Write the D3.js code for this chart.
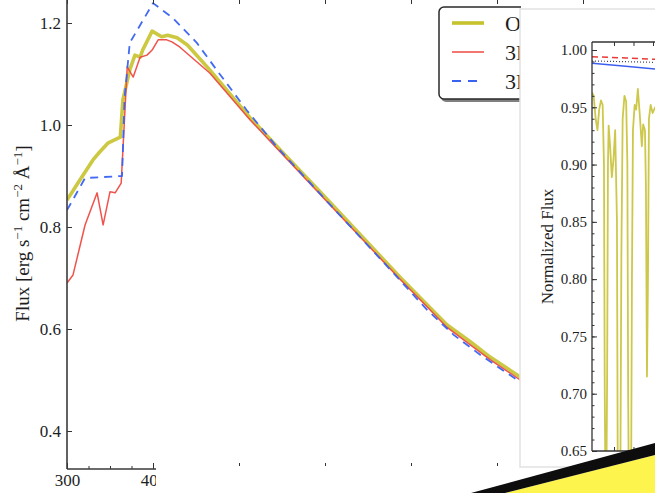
<!DOCTYPE html>
<html><head><meta charset="utf-8">
<script src="https://cdn.jsdelivr.net/npm/d3@7"></script>
<style>
html,body{margin:0;padding:0;background:#fff;overflow:hidden}
svg{display:block}
text{font-family:"Liberation Serif","Times New Roman",serif;fill:#1e1e1e}
</style></head><body>
<svg id="chart" width="655" height="493"></svg>
<script>
// ---- Main panel: broad-band flux, wavelength in nm ----
const obsWave  = [300,315,330,338,348,362,365,373,379,385,388,399,410,417,428,440,466,513,548,600,687,711,742,769,792,827,860];
const obsFlux  = [0.853,0.892,0.931,0.947,0.965,0.976,1.049,1.108,1.137,1.133,1.147,1.184,1.173,1.176,1.171,1.157,1.108,1.014,0.951,0.859,0.702,0.661,0.608,0.575,0.545,0.506,0.470];
const nlteWave = [300,307,321,335,342,350,356,363,365,370,377,385,393,399,406,416,422,431,466,513,548,687,711,742,769,792,827,860];
const nlteFlux = [0.690,0.706,0.804,0.867,0.804,0.869,0.867,0.886,0.951,1.114,1.094,1.133,1.137,1.147,1.167,1.167,1.163,1.153,1.102,1.010,0.947,0.698,0.657,0.603,0.569,0.540,0.500,0.464];
const lteWave  = [300,321,364,367,373,400,423,451,474,509,544,687,719,750,780,827,860];
const lteFlux  = [0.833,0.896,0.900,1.055,1.161,1.239,1.210,1.161,1.108,1.029,0.957,0.696,0.637,0.588,0.550,0.496,0.460];
const seriesNames = ["Observed", "3D NLTE", "3D LTE"];
const mainYTicks = [0.4, 0.6, 0.8, 1.0, 1.2];
const mainXTicks = [300, 400, 500, 600, 700, 800, 900];

// ---- Inset: normalized flux around a line region, wavelength in Å ----
const zoomWave = [5164.436,5164.478,5164.530,5164.576,5164.620,5164.666,5164.709,5164.743,5164.763,5164.778,5164.807,5164.825,5164.845,5164.863,5164.902,5164.945,5164.986,5165.030,5165.076,5165.096,5165.163,5165.189,5165.222,5165.268,5165.312,5165.343,5165.363,5165.378,5165.440,5165.460,5165.486,5165.530,5165.568,5165.612,5165.658,5165.714,5165.748,5165.794,5165.819,5165.845,5165.871,5165.896,5165.940,5165.991,5166.055,5166.130];
const zoomObs  = [0.963,0.960,0.940,0.930,0.948,0.956,0.952,0.900,0.700,0.630,0.630,0.720,0.900,0.934,0.915,0.889,0.904,0.930,0.850,0.630,0.630,0.820,0.940,0.960,0.955,0.900,0.700,0.630,0.630,0.800,0.930,0.952,0.948,0.966,0.945,0.916,0.935,0.930,0.880,0.715,0.800,0.940,0.952,0.945,0.950,0.948];
const zoomModelWave = [5164.436, 5165.300, 5166.200];
const zoomNlte = [0.9942, 0.9930, 0.9917];
const zoomLte  = [0.9884, 0.9858, 0.9830];
const zoom1D   = [0.9904, 0.9898, 0.9891];
const insetYTicks = [0.65,0.70,0.75,0.80,0.85,0.90,0.95,1.00];

const colors = {obs:"#c6c22e", nlte:"#ee4a42", lte:"#3a62f2"};

const svg = d3.select("#chart");
const defs = svg.append("defs");

// ---------- main axes ----------
const xMain = d3.scaleLinear().domain([300, 1000]).range([67, 67 + 7 * 86]);
const yMain = d3.scaleLinear().domain([0.4, 1.2]).range([431, 23]);
const mainTop = yMain(1.249), mainBottom = yMain(0.3255);

defs.append("clipPath").attr("id","clipMain")
  .append("rect").attr("x", 67).attr("y", mainTop).attr("width", 700).attr("height", mainBottom - mainTop);

const gMain = svg.append("g");
const lineMain = d3.line().x(d => xMain(d[0])).y(d => yMain(d[1]));
const mainSeries = [
  {w: obsWave,  f: obsFlux,  c: colors.obs,  sw: 3.6, dash: null},
  {w: nlteWave, f: nlteFlux, c: colors.nlte, sw: 1.5, dash: null},
  {w: lteWave,  f: lteFlux,  c: colors.lte,  sw: 1.8, dash: "8,6"}
];
gMain.append("g").attr("clip-path","url(#clipMain)")
  .selectAll("path").data(mainSeries).join("path")
  .attr("d", s => lineMain(d3.zip(s.w, s.f)))
  .attr("fill","none").attr("stroke", s => s.c).attr("stroke-width", s => s.sw)
  .attr("stroke-dasharray", s => s.dash).attr("stroke-linejoin","round")
  .attr("opacity", (s,i) => i === 0 ? 0.9 : 0.95);

function styleAxis(g, fs){
  g.select(".domain").remove();
  g.selectAll(".tick line").attr("stroke","#333").attr("stroke-width",1);
  g.selectAll(".tick text").attr("font-size", fs).attr("fill","#1e1e1e")
   .attr("font-family",'"Liberation Serif","Times New Roman",serif');
}

// left axis
gMain.append("g").attr("transform","translate(67,0)")
  .call(d3.axisLeft(yMain).tickValues(mainYTicks).tickSize(-5).tickPadding(6).tickFormat(d3.format(".1f")))
  .call(g => styleAxis(g, 17));
// bottom axis, majors and minors
gMain.append("g").attr("transform",`translate(0,${mainBottom})`)
  .call(d3.axisBottom(xMain).tickValues(mainXTicks).tickSize(-6).tickPadding(5).tickFormat(d3.format("d")))
  .call(g => styleAxis(g, 17));
gMain.append("g").attr("transform",`translate(0,${mainBottom})`)
  .call(d3.axisBottom(xMain).tickValues(d3.range(300, 1001, 25)).tickSize(-3).tickFormat(""))
  .call(g => styleAxis(g, 17));
// top axis
gMain.append("g").attr("transform",`translate(0,${mainTop})`)
  .call(d3.axisTop(xMain).tickValues(mainXTicks).tickSize(-6).tickFormat(""))
  .call(g => styleAxis(g, 17));
// spines
gMain.append("line").attr("x1",67).attr("x2",67).attr("y1",mainTop).attr("y2",mainBottom)
  .attr("stroke","#3a3a3a").attr("stroke-width",1.6);
gMain.append("line").attr("x1",67).attr("x2",767).attr("y1",mainBottom).attr("y2",mainBottom)
  .attr("stroke","#3a3a3a").attr("stroke-width",1.6);

// y label
const yl = gMain.append("text").attr("transform",`translate(29,${(mainTop+mainBottom)/2}) rotate(-90)`)
  .attr("text-anchor","middle").attr("font-size",19);
yl.append("tspan").text("Flux [erg s");
yl.append("tspan").attr("baseline-shift","super").attr("font-size",13).text("−1");
yl.append("tspan").text(" cm");
yl.append("tspan").attr("baseline-shift","super").attr("font-size",13).text("−2");
yl.append("tspan").text(" Å");
yl.append("tspan").attr("baseline-shift","super").attr("font-size",13).text("−1");
yl.append("tspan").text("]");

// legend (its right part sits behind the inset panel)
defs.append("clipPath").attr("id","clipLegend")
  .append("rect").attr("x",430).attr("y",0).attr("width",91).attr("height",120);
const lg = svg.append("g").attr("clip-path","url(#clipLegend)");
lg.append("rect").attr("x",441).attr("y",10).attr("width",260).attr("height",92).attr("rx",5)
  .attr("fill","#555").attr("opacity",0.75);
lg.append("rect").attr("x",439).attr("y",7).attr("width",260).attr("height",92).attr("rx",5)
  .attr("fill","#fff").attr("stroke","#2a2a2a").attr("stroke-width",1.5);
const legItems = lg.selectAll("g.item").data(mainSeries).join("g").attr("class","item")
  .attr("transform",(d,i)=>`translate(0,${23 + i*29})`);
legItems.append("line").attr("x1",452).attr("x2",484).attr("y1",0).attr("y2",0)
  .attr("stroke",d=>d.c).attr("stroke-width",d=>d.sw).attr("stroke-dasharray",d=>d.dash ? "9,7" : null);
legItems.append("text").attr("x",505).attr("y",8).attr("font-size",22).text((d,i)=>seriesNames[i]);

// white band along the lower edge
svg.append("rect").attr("x",156).attr("y",466).attr("width",520).attr("height",40).attr("fill","#fff");

// ---------- inset ----------
svg.append("rect").attr("x",520).attr("y",9).attr("width",160).attr("height",458)
  .attr("fill","#fff").attr("stroke","#e2e2e2").attr("stroke-width",1.5);

const xIn = d3.scaleLinear().domain([5164.436, 5166.5]).range([592, 592 + 2.064 * 39]);
const yIn = d3.scaleLinear().domain([0.65, 1.0]).range([451, 50]);
const inTop = yIn(1.007), inBottom = yIn(0.65);
defs.append("clipPath").attr("id","clipIn")
  .append("rect").attr("x",592).attr("y",inTop).attr("width",120).attr("height",inBottom-inTop);

const gIn = svg.append("g");
const lineIn = d3.line().x(d => xIn(d[0])).y(d => yIn(d[1]));
const gInLines = gIn.append("g").attr("clip-path","url(#clipIn)");
gInLines.append("path").attr("d", lineIn(d3.zip(zoomWave, zoomObs)))
  .attr("fill","none").attr("stroke","#cdc84a").attr("stroke-width",1.8).attr("stroke-linejoin","round");
gInLines.append("path").attr("d", lineIn(d3.zip(zoomModelWave, zoomLte)))
  .attr("fill","none").attr("stroke","#3d5ff0").attr("stroke-width",1.5);
gInLines.append("path").attr("d", lineIn(d3.zip(zoomModelWave, zoomNlte)))
  .attr("fill","none").attr("stroke","#e83a36").attr("stroke-width",1.5).attr("stroke-dasharray","6,4");
gInLines.append("path").attr("d", lineIn(d3.zip(zoomModelWave, zoom1D)))
  .attr("fill","none").attr("stroke","#445").attr("stroke-width",1.2).attr("stroke-dasharray","1,2");

gIn.append("g").attr("transform","translate(592,0)")
  .call(d3.axisLeft(yIn).tickValues(insetYTicks).tickSize(-5).tickPadding(5).tickFormat(d3.format(".2f")))
  .call(g => styleAxis(g, 15));
gIn.append("g").attr("transform","translate(592,0)")
  .call(d3.axisLeft(yIn).tickValues(d3.range(66, 101).map(v => v / 100)).tickSize(-2.5).tickFormat(""))
  .call(g => styleAxis(g, 15));
const inXTicks = [5165.0, 5165.5, 5166.0, 5166.5];
gIn.append("g").attr("transform",`translate(0,${inTop})`)
  .call(d3.axisTop(xIn).tickValues(inXTicks).tickSize(-4).tickFormat(""))
  .call(g => styleAxis(g, 15));
gIn.append("g").attr("transform",`translate(0,${inBottom})`)
  .call(d3.axisBottom(xIn).tickValues(inXTicks).tickSize(-4).tickFormat(""))
  .call(g => styleAxis(g, 15));
gIn.append("line").attr("x1",592).attr("x2",592).attr("y1",inTop).attr("y2",inBottom)
  .attr("stroke","#333").attr("stroke-width",1.3);
gIn.append("line").attr("x1",592).attr("x2",700).attr("y1",inTop).attr("y2",inTop)
  .attr("stroke","#333").attr("stroke-width",1.3);
gIn.append("line").attr("x1",592).attr("x2",700).attr("y1",inBottom).attr("y2",inBottom)
  .attr("stroke","#333").attr("stroke-width",1.3);
gIn.append("text").attr("transform",`translate(553,${(inTop+inBottom)/2}) rotate(-90)`)
  .attr("text-anchor","middle").attr("font-size",17).text("Normalized Flux");

// ---------- diagonal stripe across the lower right corner ----------
svg.append("polygon").attr("points","505,493 655,455 655,493").attr("fill","#fdf44e");
svg.append("polygon").attr("points","471,493 655,443 655,455 505,493").attr("fill","#0d0d0d");
</script>
</body></html>
